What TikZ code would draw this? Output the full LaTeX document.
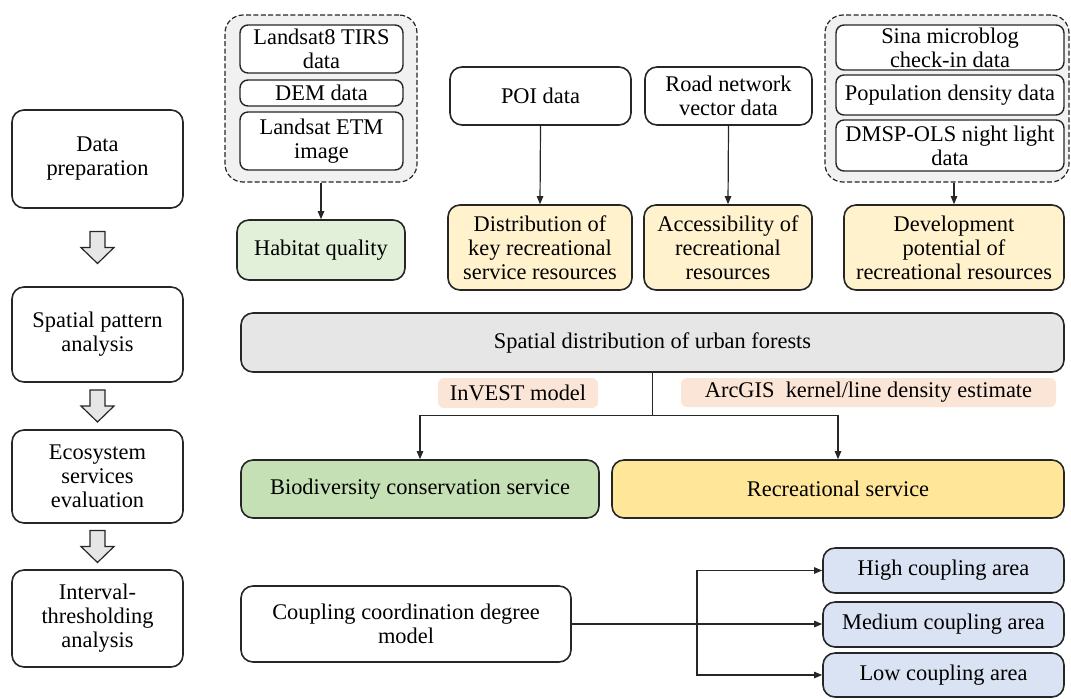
\documentclass[tikz,border=0pt]{standalone}
\usepackage{fontspec}
\setmainfont{Liberation Serif}
\usetikzlibrary{arrows.meta,calc}
\definecolor{bordc}{HTML}{262626}
\definecolor{grpfill}{HTML}{F1F1F1}
\definecolor{habfill}{HTML}{E2F0D9}
\definecolor{recfill}{HTML}{FFF2CC}
\definecolor{sdfill}{HTML}{E7E6E6}
\definecolor{labfill}{HTML}{FBE5D6}
\definecolor{biofill}{HTML}{C5E0B4}
\definecolor{rsfill}{HTML}{FFE699}
\definecolor{cpfill}{HTML}{DAE3F3}
\definecolor{arrfill}{HTML}{E6E6E6}
\newcommand\mybox[7]{%
  \pgfmathsetmacro\bw{(#4-#2)*0.5}\pgfmathsetmacro\bh{(#5-#3)*0.5}%
  \node[#6, minimum width=\bw pt, minimum height=\bh pt] (#1) at ({(#2+#4)/2},{(#3+#5)/2}) {#7};}
\begin{document}
\begin{tikzpicture}[x=0.5pt,y=-0.5pt,
  font=\fontsize{11.2}{12}\selectfont,
  base/.style={align=center, inner sep=1pt, text=black},
  bigbox/.style={base, draw=bordc, line width=0.8pt, rounded corners=6pt},
  smallbox/.style={base, draw=bordc, line width=0.7pt, rounded corners=4pt, fill=white},
  grpbox/.style={draw=bordc, line width=0.6pt, dash pattern=on 2.5pt off 1.2pt, rounded corners=9pt, fill=grpfill, inner sep=0pt},
  labbox/.style={base, fill=labfill, rounded corners=3pt},
  conn/.style={draw=bordc, line width=0.6pt},
  arr/.style={conn, -{Triangle[length=4pt,width=3.2pt]}},
  blockarr/.style={draw=bordc, line width=0.6pt, fill=arrfill, line join=miter}
]
\useasboundingbox (0,0) rectangle (1071,698);

% left column
\mybox{dp}{12}{110}{183}{208}{bigbox}{Data\\preparation}
\mybox{sp}{12}{287}{183}{382}{bigbox}{Spatial pattern\\analysis}
\mybox{es}{12}{430}{183}{523}{bigbox}{Ecosystem\\services\\evaluation}
\mybox{it}{12}{570}{183}{667}{bigbox}{Interval-\\thresholding\\analysis}

\foreach \u/\v in {dp/sp, sp/es, es/it}{
  \coordinate (m) at ($(\u.south)!0.5!(\v.north)$);
  \draw[blockarr] ($(m)+(-7.5,-16)$) -- ($(m)+(7.5,-16)$) -- ($(m)+(7.5,0)$) -- ($(m)+(16.5,0)$)
     -- ($(m)+(0,16)$) -- ($(m)+(-16.5,0)$) -- ($(m)+(-7.5,0)$) -- cycle;
}

% top-left group
\mybox{g1}{225}{15}{417}{182}{grpbox}{}
\mybox{l8}{240}{25}{403}{73}{smallbox}{Landsat8 TIRS\\data}
\mybox{dem}{240}{80}{403}{106}{smallbox}{DEM data}
\mybox{etm}{240}{112}{403}{170}{smallbox}{Landsat ETM\\image}
\mybox{hq}{237}{220}{405}{280}{bigbox, fill=habfill}{Habitat quality}

% middle top
\mybox{poi}{450}{67}{631}{125}{bigbox}{POI data}
\mybox{road}{645}{67}{812}{125}{bigbox}{Road network\\vector data}
\mybox{dist}{448}{205}{632}{290}{bigbox, fill=recfill}{Distribution of\\key recreational\\service resources}
\mybox{acc}{644}{205}{812}{290}{bigbox, fill=recfill}{Accessibility of\\recreational\\resources}

% top-right group
\mybox{g2}{825}{15}{1069}{182}{grpbox}{}
\mybox{sina}{836}{25}{1064}{70}{smallbox}{Sina microblog\\check-in data}
\mybox{pop}{836}{75}{1064}{115}{smallbox}{Population density data}
\mybox{dmsp}{836}{120}{1064}{171}{smallbox}{DMSP-OLS night light\\data}
\mybox{dev}{844}{205}{1064}{290}{bigbox, fill=recfill}{Development\\potential of\\recreational resources}

% spatial distribution
\mybox{sd}{241}{313}{1064}{372}{bigbox, fill=sdfill}{Spatial distribution of urban forests}
\mybox{inv}{438}{378}{598}{408}{labbox}{InVEST model}
\mybox{arc}{681}{378}{1056}{407}{labbox}{ArcGIS\ \ kernel/line density estimate}
\mybox{bio}{241}{460}{599}{518}{bigbox, fill=biofill}{Biodiversity conservation service}
\mybox{rec}{612}{460}{1064}{518}{bigbox, fill=rsfill}{Recreational service}

% coupling
\mybox{ccd}{241}{586}{571}{662}{bigbox}{Coupling coordination degree\\model}
\mybox{hi}{823}{548}{1064}{593}{bigbox, fill=cpfill}{High coupling area}
\mybox{med}{823}{602}{1064}{647}{bigbox, fill=cpfill}{Medium coupling area}
\mybox{low}{823}{653}{1064}{697}{bigbox, fill=cpfill}{Low coupling area}

% connectors
\draw[arr] (g1.south -| hq.north) -- (hq.north);
\draw[arr] (poi.south) -- (dist.north);
\draw[arr] (road.south) -- (acc.north);
\draw[arr] (g2.south -| dev.north) -- (dev.north);

\coordinate (j) at ($(sd.south)+(0,43)$);
\draw[conn] (sd.south) -- (j);
\draw[arr] (j) -| (bio.north);
\draw[arr] (j) -| (rec.north);

\draw[arr] (ccd.east) -- (ccd.east -| med.west);
\coordinate (v) at ($(ccd.east)!0.5!(ccd.east -| med.west)$);
\draw[arr] (v) |- (hi.west);
\draw[arr] (v) |- (low.west);
\end{tikzpicture}
\end{document}
